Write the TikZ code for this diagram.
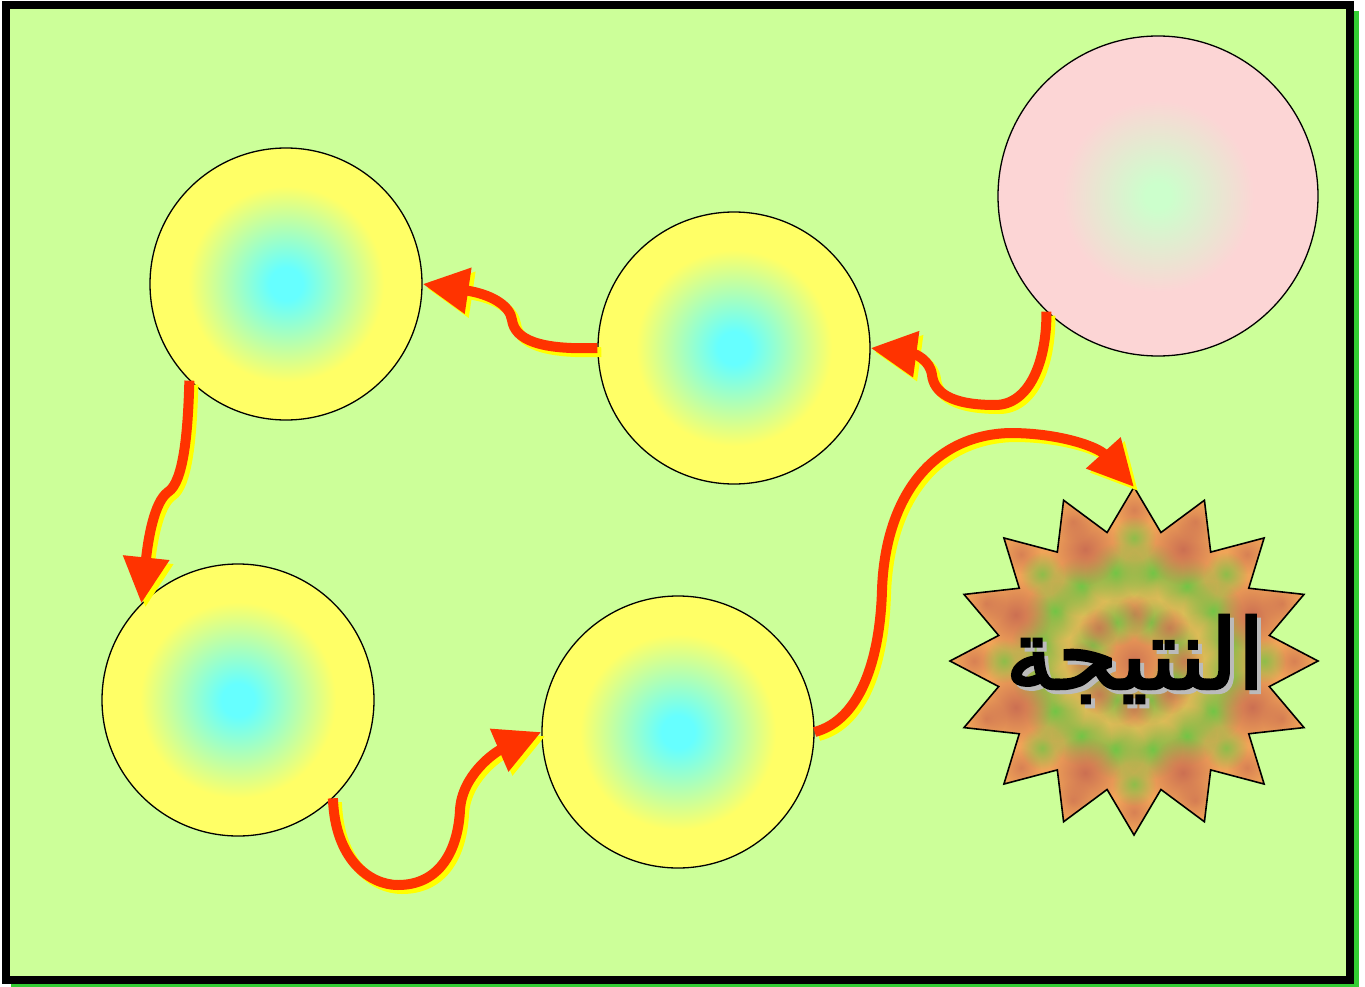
\documentclass[tikz,border=0pt]{standalone}
\usepackage{fontspec}
\usetikzlibrary{arrows.meta,fadings}
\TeXXeTstate=1
\newfontfamily\arabicfont[Script=Arabic,FakeBold=3]{DejaVu Sans}
\definecolor{bg}{HTML}{CCFF99}
\definecolor{frameshadow}{HTML}{33CC33}
\definecolor{arrowred}{HTML}{FF3300}
\definecolor{arrowshadow}{HTML}{FFFF00}
\definecolor{ballcyan}{HTML}{66FFFF}
\definecolor{ballyellow}{HTML}{FFFF66}
\definecolor{pinkedge}{HTML}{FCD5D5}
\definecolor{pinkcentre}{HTML}{CCFFCC}
\definecolor{starbase}{HTML}{F0A458}
\definecolor{stargreen}{HTML}{66C844}
\definecolor{staryellow}{HTML}{D8C458}
\definecolor{starbrown}{HTML}{C86A52}
\definecolor{textshadow}{HTML}{BBBBBB}
\pgfdeclareradialshading{ballshade}{\pgfpoint{0bp}{0bp}}{color(0bp)=(ballcyan); color(3bp)=(ballcyan); color(18bp)=(ballyellow); color(25bp)=(ballyellow); color(50bp)=(ballyellow)}
\pgfdeclareradialshading{pinkshade}{\pgfpoint{0bp}{0bp}}{color(0bp)=(pinkcentre); color(2bp)=(pinkcentre); color(15bp)=(pinkedge); color(25bp)=(pinkedge); color(50bp)=(pinkedge)}
\tikzfading[name=softblob, inner color=transparent!0, outer color=transparent!100]
\newcommand\flowpaths[1]{%
  \draw[#1] (p.226) .. controls (1047,360) and (1030,405) .. (995,405)
     .. controls (950,405) and (934,392) .. (932,375)
     .. controls (930,360) and (915,354) .. (b.0);
  \draw[#1] (b.180) .. controls (540,350) and (515,340) .. (512,320)
     .. controls (510,305) and (490,294) .. (a.0);
  \draw[#1] (a.225) .. controls (188,430) and (184,482) .. (168,492)
     .. controls (154,502) and (148,540) .. (c.135);
  \draw[#1] (c.-46) .. controls (335,860) and (370,885) .. (398,885)
     .. controls (440,885) and (458,850) .. (460,810)
     .. controls (462,775) and (495,752) .. (d.180);
  \draw[#1] (d.0) .. controls (860,720) and (880,660) .. (882,590)
     .. controls (885,500) and (930,435) .. (1010,433)
     .. controls (1060,433) and (1098,447) .. (startop);
}
\begin{document}
\begin{tikzpicture}[x=1pt,y=-1pt,
  ball/.style={circle, draw=black, line width=1.3pt, minimum size=272pt, inner sep=0pt, shade, shading=ballshade},
  pinkball/.style={circle, draw=black, line width=1.3pt, minimum size=320pt, inner sep=0pt, shade, shading=pinkshade},
  flowline/.style={draw=arrowred, line width=10pt, -{Triangle[length=46pt,width=44pt]}},
  flowshadow/.style={draw=arrowshadow, line width=10pt, -{Triangle[length=46pt,width=44pt]}},
  blob/.style={path fading=softblob},
  resultfont/.style={font=\arabicfont\fontsize{97}{97}\selectfont, inner sep=0pt}]
\useasboundingbox (0,0) rectangle (1365,987);
\fill[white] (0,0) rectangle (1365,987);
\fill[frameshadow] (11,11) rectangle (1359,989);
\draw[line width=8pt, fill=bg] (6,5) rectangle (1350,980);
% circles
\node[pinkball] (p) at (1158,196) {};
\node[ball] (a) at (286,284) {};
\node[ball] (b) at (734,348) {};
\node[ball] (c) at (238,700) {};
\node[ball] (d) at (678,732) {};
% star
\path[save path=\starP] plot[samples at={0,...,31}, variable=\k]
  ({1134+ifthenelse(mod(\k,2)==0,184,138)*sin(\k*11.25)}, {661-ifthenelse(mod(\k,2)==0,174,131)*cos(\k*11.25)}) -- cycle;
\fill[starbase, use path=\starP];
\begin{scope}
  \clip[use path=\starP];
  \fill[starbrown, opacity=0.8, blob] (1134,661) circle (34);
  \foreach \k in {0,...,15} {
    \fill[staryellow, opacity=0.8, blob] ({1134+70*sin(\k*22.5)}, {661-66*cos(\k*22.5)}) circle (24);
    \fill[stargreen, opacity=0.9, blob] ({1134+95*sin(\k*22.5+11.25)}, {661-90*cos(\k*22.5+11.25)}) circle (30);
    \fill[starbrown, opacity=0.6, blob] ({1134+160*sin(\k*22.5)}, {661-151*cos(\k*22.5)}) circle (20);
  }
  \foreach \k in {0,...,7} {
    \fill[stargreen, opacity=0.8, blob] ({1134+45*sin(\k*45+22.5)}, {661-42*cos(\k*45+22.5)}) circle (24);
    \fill[starbrown, opacity=0.7, blob] ({1134+50*sin(\k*45)}, {661-47*cos(\k*45)}) circle (20);
    \fill[starbrown, opacity=0.9, blob] ({1134+128*sin(\k*45+22.5)}, {661-121*cos(\k*45+22.5)}) circle (36);
    \fill[stargreen, opacity=0.7, blob] ({1134+130*sin(\k*45)}, {661-123*cos(\k*45)}) circle (22);
  }
\end{scope}
\draw[line width=1.6pt, use path=\starP];
\coordinate (startop) at (1134,487);
\node[text=textshadow, resultfont] (resultshadow) at (1139,663) {\beginR النتيجة\endR};
\node[text=black, resultfont] (result) at (1135,659) {\beginR النتيجة\endR};
% arrows
\begin{scope}[transform canvas={xshift=4pt,yshift=-4pt}]
  \flowpaths{flowshadow}
\end{scope}
\flowpaths{flowline}
\end{tikzpicture}
\end{document}
